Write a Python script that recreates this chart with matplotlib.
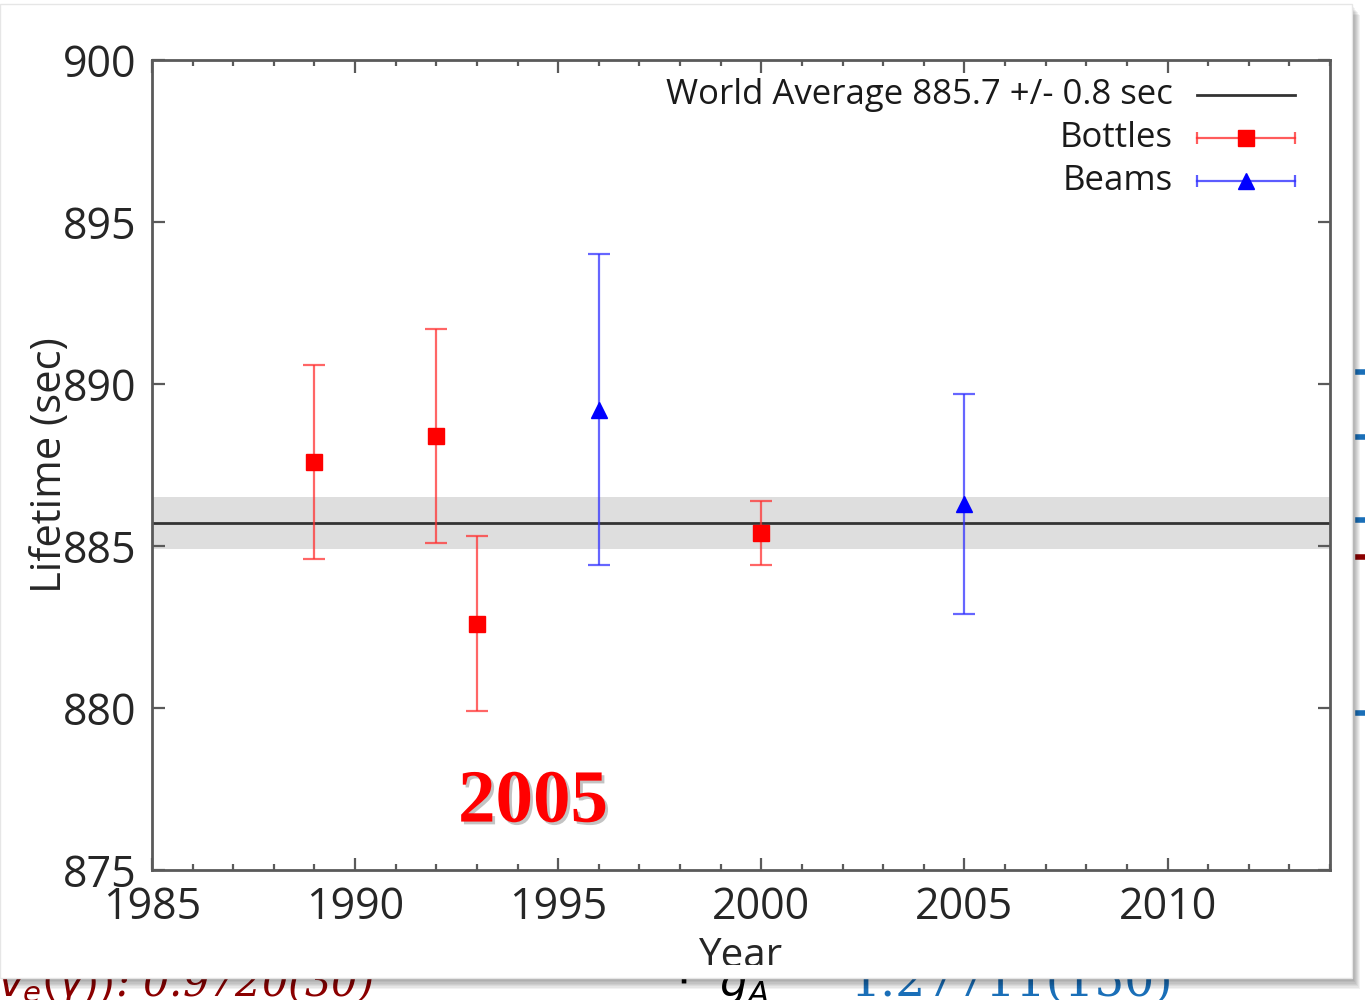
import numpy as np
import matplotlib
matplotlib.use("Agg")
import matplotlib.pyplot as plt
from matplotlib.patches import Rectangle
from matplotlib.lines import Line2D
from matplotlib.transforms import Bbox
import matplotlib.patheffects as pe

plt.rcParams['font.family'] = ['Open Sans', 'DejaVu Sans']

# neutron lifetime measurements
bottle_year = [1989, 1992, 1993, 2000]
bottle_tau = [887.6, 888.4, 882.6, 885.4]
bottle_err = [3.0, 3.3, 2.7, 1.0]

beam_year = [1996, 2005]
beam_tau = [889.2, 886.3]
beam_err = [4.8, 3.4]

world_avg = 885.7
world_err = 0.8

xticks = [1985, 1990, 1995, 2000, 2005, 2010]
yticks = [875, 880, 885, 890, 895, 900]

W, H = 1365, 1000
fig = plt.figure(figsize=(W / 100, H / 100), dpi=100)
fig.patch.set_facecolor('white')

# bits of the slide underneath the picture
fig.text(-2 / W, 4 / H, r"$v_e(\gamma))$: 0.9720(30)", color='#8b0000', fontsize=30,
         family='DejaVu Serif', style='italic', va='baseline', zorder=-3)
fig.text(676 / W, 4 / H, r"$\cdot\ \ g_A$", color='black', fontsize=32,
         va='baseline', zorder=-3)
fig.text(850 / W, 4 / H, "1.27711(150)", color='#1a6fb8', fontsize=34,
         family='DejaVu Serif', va='baseline', zorder=-3)
for yy, cc in [(372, '#1a6fb8'), (437, '#1a6fb8'), (520, '#1a6fb8'), (557, '#8b0000'), (713, '#1a6fb8')]:
    fig.add_artist(Line2D([1358 / W, 1.0], [1 - yy / H] * 2, color=cc, lw=4, zorder=-3))

# picture frame with a soft drop shadow
px0, py0, pw, ph = 0, 22, 1352, 974
for k in range(1, 9):
    fig.add_artist(Rectangle(((px0 + k) / W, (py0 - 1.4 * k) / H), pw / W, ph / H,
                             transform=fig.transFigure, facecolor='black', edgecolor='none',
                             alpha=0.05, zorder=-2))
fig.add_artist(Rectangle((px0 / W, py0 / H), pw / W, ph / H, transform=fig.transFigure,
                         facecolor='white', edgecolor='#e6e6e6', lw=1, zorder=-1))

ax = fig.add_axes([152 / W, 1 - 870 / H, (1330 - 152) / W, (870 - 60) / H])
ax.set_facecolor('white')

ax.axhspan(world_avg - world_err, world_avg + world_err, color='#dedede', lw=0, zorder=1)
ax.axhline(world_avg, color='#333333', lw=2, zorder=2)

ax.errorbar(bottle_year, bottle_tau, yerr=bottle_err, fmt='s', color='red', ms=11.5,
            ecolor=(1, 0.2, 0.2, 0.75), elinewidth=1.6, capsize=8, capthick=1.6, zorder=3)
ax.errorbar(beam_year, beam_tau, yerr=beam_err, fmt='^', color='blue', ms=12,
            ecolor=(0.2, 0.2, 1, 0.75), elinewidth=1.6, capsize=8, capthick=1.6, zorder=3)

ax.set_xlim(1985, 2014)
ax.set_ylim(875, 900)
ax.set_xticks(xticks)
ax.set_yticks(yticks)
ax.set_xticks(np.arange(1985, 2015, 1), minor=True)

for s in ax.spines.values():
    s.set_color('#5a5a5a')
    s.set_linewidth(2)
ax.tick_params(which='both', direction='in', top=True, right=True, colors='#5a5a5a', width=1.6)
ax.tick_params(which='major', length=9)
ax.tick_params(which='minor', length=4.5)
ax.tick_params(axis='both', labelsize=31, labelcolor='#262626')
ax.tick_params(axis='y', pad=11)
ax.tick_params(axis='x', pad=11)

ax.set_ylabel("Lifetime (sec)", fontsize=30, color='#262626')
ax.yaxis.set_label_coords(-0.069, 0.5)
xl = ax.set_xlabel("Year", fontsize=29, color='#262626')
ax.xaxis.set_label_coords(0.5, -0.082)
xl.set_clip_box(Bbox([[0, 35], [W, H]]))

# key in the upper right corner
tx = (1173 - 152) / 1178
x0, x1 = (1197 - 152) / 1178, (1295 - 152) / 1178
xm = (x0 + x1) / 2
rows = [1 - 35 / 810, 1 - 78 / 810, 1 - 121 / 810]
ax.text(tx, rows[0], "World Average 885.7 +/- 0.8 sec", transform=ax.transAxes,
        ha='right', va='center', fontsize=25, color='#1a1a1a')
ax.plot([x0, x1], [rows[0]] * 2, transform=ax.transAxes, color='#333333', lw=2)
for r, lab, c, ec, m in [(rows[1], "Bottles", 'red', (1, 0.2, 0.2, 0.8), 's'),
                         (rows[2], "Beams", 'blue', (0.2, 0.2, 1, 0.8), '^')]:
    ax.text(tx, r, lab, transform=ax.transAxes, ha='right', va='center', fontsize=25, color='#1a1a1a')
    ax.plot([x0, x1], [r, r], transform=ax.transAxes, color=ec, lw=1.6)
    ax.plot([x0, x1], [r, r], transform=ax.transAxes, ls='none', marker='|', ms=9, mew=1.6, color=ec)
    ax.plot([xm], [r], transform=ax.transAxes, ls='none', marker=m, ms=11, color=c)

ax.text(1994.38, 877.05, "2005", fontsize=54, fontweight='bold', family='Liberation Serif',
        color='red', ha='center', va='center',
        path_effects=[pe.SimplePatchShadow(offset=(2, -2), shadow_rgbFace='#888888', alpha=0.5), pe.Normal()])

fig.savefig("out.png", dpi=100, facecolor='white')
